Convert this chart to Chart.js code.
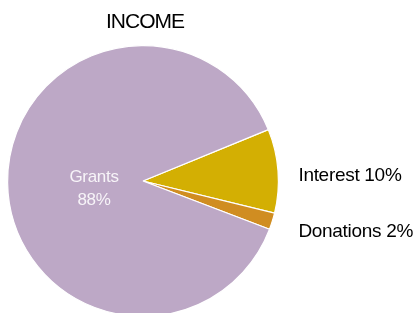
<!DOCTYPE html>
<html>
<head>
<meta charset="utf-8">
<script src="https://cdn.jsdelivr.net/npm/chart.js@4/dist/chart.umd.min.js"></script>
<style>
html,body{margin:0;padding:0;background:#fff;overflow:hidden;width:415px;height:313px;}
#wrap{position:absolute;left:0;top:0;width:415px;height:330px;}
</style>
</head>
<body>
<div id="wrap"><canvas id="c" width="415" height="330"></canvas></div>
<script>
const title = 'INCOME';
const categories = ['Interest', 'Donations', 'Grants'];
const values = [10, 2, 88];
const colors = ['#D3AF03', '#D08D21', '#BDA8C6'];

const labelPlugin = {
  id: 'labelPlugin',
  afterDraw(chart) {
    const ctx = chart.ctx;
    const meta = chart.getDatasetMeta(0);
    const total = values.reduce((a, b) => a + b, 0);
    ctx.save();
    // title
    ctx.fillStyle = '#000';
    ctx.font = '21px "Liberation Sans", Arial, sans-serif';
    if ('letterSpacing' in ctx) ctx.letterSpacing = '-1px';
    ctx.textAlign = 'center';
    ctx.textBaseline = 'middle';
    ctx.fillText(title, 145, 22);
    if ('letterSpacing' in ctx) ctx.letterSpacing = '-0.3px';
    meta.data.forEach((arc, i) => {
      const pct = Math.round(values[i] / total * 100) + '%';
      const cx = arc.x, cy = arc.y, R = arc.outerRadius;
      const mid = (arc.startAngle + arc.endAngle) / 2;
      if (categories[i] === 'Grants') {
        ctx.fillStyle = '#F7F4F8';
        ctx.font = '17px "Liberation Sans", Arial, sans-serif';
        ctx.textAlign = 'center';
        const lx = cx - 49, ly = cy - 4;
        ctx.fillText(categories[i], lx, ly);
        ctx.fillText(pct, lx, ly + 23);
      } else {
        ctx.fillStyle = '#000';
        ctx.font = '19px "Liberation Sans", Arial, sans-serif';
        ctx.textAlign = 'left';
        const lx = cx + R + 20;
        const ly = cy + Math.sin(mid) * R + (categories[i] === 'Interest' ? 5 : 11);
        ctx.fillText(categories[i] + ' ' + pct, lx, ly);
      }
    });
    ctx.restore();
  }
};

new Chart(document.getElementById('c'), {
  type: 'pie',
  data: {
    labels: categories,
    datasets: [{
      data: values,
      backgroundColor: colors,
      borderColor: '#ffffff',
      borderWidth: 1.2
    }]
  },
  options: {
    responsive: false,
    animation: false,
    rotation: 67.7,
    layout: { padding: { left: 7, right: 136, top: 45, bottom: 13 } },
    plugins: {
      legend: { display: false },
      tooltip: { enabled: false },
      title: { display: false }
    }
  },
  plugins: [labelPlugin]
});
</script>
</body>
</html>
